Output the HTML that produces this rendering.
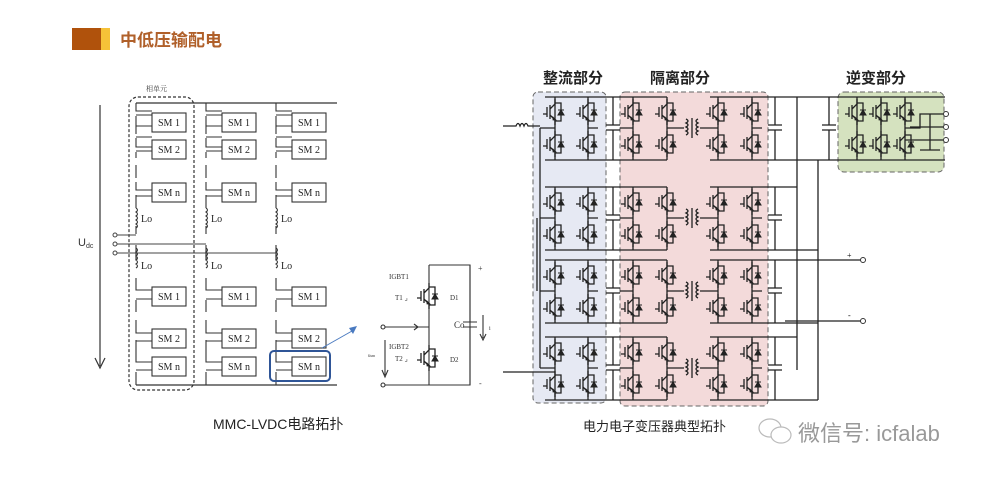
<!DOCTYPE html>
<html><head><meta charset="utf-8"><style>
body{margin:0;background:#fff;}
svg{display:block;font-family:"Liberation Serif","Noto Serif CJK SC",serif;}
.s{font-family:"Liberation Sans","Noto Sans CJK SC",sans-serif;}
</style></head><body>
<svg width="995" height="477" viewBox="0 0 995 477" xmlns="http://www.w3.org/2000/svg">
<defs>
<g id="ig" stroke="#222" fill="none" stroke-width="1.3">
<path d="M0,-13 V-8 L-5,-3 M-5,-7 V7 M-8,-5 V5 M-12,2 H-8 M-5,3 L0,8 V13 M0,-9 H6 V9 H0"/>
<path d="M3,3 H9 L6,-2 Z M3,-2 H9" fill="#222" stroke-width="1"/>
<path d="M-2,5 L1,8 L-2,8 Z" fill="#222" stroke-width="0.8"/>
</g>
<g id="cap" stroke="#222" stroke-width="1.3" fill="none"><path d="M0,0 V28 M-7,28 H7 M-7,33 H7 M0,33 V63"/></g>
<g id="mod" stroke="#222" stroke-width="1.3" fill="none">
<path d="M545,0 H667 M545,63 H667 M710,0 H785 M710,63 H785"/>
<path d="M555,0 V63 M588,0 V63 M633,0 V63 M667,0 V63 M718,0 V63 M752,0 V63"/>
<path d="M555,31 H540 M588,31 H598 M633,31 H620 M667,31 H684 M700,31 H718 M752,31 H762"/>
<path d="M686,22 q4,2 0,4 q4,2 0,4 q4,2 0,4 q4,2 0,4 M698,22 q-4,2 0,4 q-4,2 0,4 q-4,2 0,4 q-4,2 0,4 M692,21 V41"/>
<use href="#cap" x="613"/><use href="#cap" x="775"/>
<use href="#ig" x="555" y="15"/><use href="#ig" x="555" y="47"/>
<use href="#ig" x="588" y="15"/><use href="#ig" x="588" y="47"/>
<use href="#ig" x="633" y="15"/><use href="#ig" x="633" y="47"/>
<use href="#ig" x="667" y="15"/><use href="#ig" x="667" y="47"/>
<use href="#ig" x="718" y="15"/><use href="#ig" x="718" y="47"/>
<use href="#ig" x="752" y="15"/><use href="#ig" x="752" y="47"/>
</g>
</defs>

<!-- header -->
<rect x="72" y="28" width="29" height="22" fill="#b0520c"/>
<rect x="101" y="28" width="9" height="22" fill="#f6c238"/>
<text x="120" y="46" font-size="17" fill="#b0602a" class="s" font-weight="bold">中低压输配电</text>

<!-- left MMC -->
<g stroke="#333" stroke-width="1.2" fill="none">
<path d="M100,105 V366"/><path d="M95,358 L100,368 L105,358"/>
<path d="M136,103 H337 M136,385 H337"/>
<rect x="129" y="97" width="65" height="293" rx="9" stroke-dasharray="3,2"/>
</g>
<text x="78" y="246" font-size="11" class="s" fill="#333">U<tspan font-size="7" dy="2">dc</tspan></text>
<text x="146" y="91" font-size="7" fill="#444">相单元</text>
<g font-size="10" fill="#222">
<g id="col" stroke="#333" stroke-width="1.1" fill="none">
<path d="M136,103 V111 H152 M136,116 V134 M136,126 H152 M136,138 V147 H152 M136,152 V158 M136,165 V178 M136,182 V190 H152 M136,195 V208 M136,226 V234 M136,245 V260 M136,278 V290 H152 M136,300 V312 M136,320 V333 H152 M136,340 V362 H152 M136,372 V385"/>
<path d="M136,115 H152 M136,137 H152 M136,151 H152 M136,196 H152 M136,299 H152 M136,341 H152 M136,370 H152"/>
<path d="M136,208 q3,2 0,4 q3,2 0,4 q3,2 0,4 q3,2 0,4 q3,2 0,4 M136,248 q3,2 0,4 q3,2 0,4 q3,2 0,4 q3,2 0,4 q3,2 0,4"/>
<rect x="152" y="113" width="34" height="19"/><rect x="152" y="140" width="34" height="19"/>
<rect x="152" y="183" width="34" height="19"/><rect x="152" y="287" width="34" height="19"/>
<rect x="152" y="329" width="34" height="19"/><rect x="152" y="357" width="34" height="19"/>
</g>
<use href="#col" x="70"/><use href="#col" x="140"/>
<g id="lbl">
<text x="158" y="126">SM 1</text><text x="158" y="153">SM 2</text><text x="158" y="196">SM n</text>
<text x="141" y="222">Lo</text><text x="141" y="269">Lo</text>
<text x="158" y="300">SM 1</text><text x="158" y="342">SM 2</text><text x="158" y="370">SM n</text>
</g>
<use href="#lbl" x="70"/><use href="#lbl" x="140"/>
</g>
<g stroke="#444" stroke-width="1" fill="none">
<path d="M117,235 H136 M117,244 H206 M117,253 H276"/>
<circle cx="115" cy="235" r="2" fill="#fff"/><circle cx="115" cy="244" r="2" fill="#fff"/><circle cx="115" cy="253" r="2" fill="#fff"/>
</g>
<rect x="270" y="351" width="60" height="30" rx="4" fill="none" stroke="#2f5597" stroke-width="2"/>
<path d="M322,348 L352,331" stroke="#4a7ac0" stroke-width="1"/><path d="M349,328 L357,326 L353,334 Z" fill="#4a7ac0"/>

<!-- half bridge -->
<g stroke="#333" stroke-width="1.1" fill="none">
<path d="M429,265 H470 V385 H385 M429,265 V385 M385,327 H429"/>
<path d="M470,265 V322 M463,322 H477 M463,327 H477 M470,327 V385"/>
<path d="M483,315 V338 M480,334 L483,340 L486,334"/>
<path d="M385,340 V375 M382,370 L385,377 L388,370 M412,327 L417,327 M414,324 L418,327 L414,330"/>
<circle cx="383" cy="327" r="2" fill="#fff"/><circle cx="383" cy="385" r="2" fill="#fff"/>
</g>
<use href="#ig" x="429" y="296"/><use href="#ig" x="429" y="358"/>
<g font-size="7" fill="#333"><text x="389" y="279">IGBT1</text><text x="395" y="300">T1 ⌟</text><text x="450" y="300">D1</text>
<text x="389" y="349">IGBT2</text><text x="395" y="361">T2 ⌟</text><text x="450" y="362">D2</text>
<text x="454" y="328" font-size="9">Co</text><text x="478" y="271" font-size="8">+</text><text x="479" y="386" font-size="8">-</text>
<text x="368" y="357" font-size="5">u<tspan font-size="4">sm</tspan></text><text x="489" y="330" font-size="6">i</text></g>
<text x="213" y="429" font-size="14" fill="#222" class="s">MMC-LVDC电路拓扑</text>

<!-- right PET -->
<rect x="533" y="92" width="73" height="311" rx="5" fill="#e6e9f3" stroke="#666" stroke-dasharray="5,3"/>
<rect x="620" y="92" width="148" height="314" rx="5" fill="#f3dada" stroke="#666" stroke-dasharray="5,3"/>
<rect x="838" y="92" width="106" height="80" rx="6" fill="#d5e2bf" stroke="#666" stroke-dasharray="5,3"/>
<g font-size="15" font-weight="bold" class="s" fill="#222"><text x="543" y="83">整流部分</text><text x="650" y="83">隔离部分</text><text x="846" y="83">逆变部分</text></g>
<use href="#mod" y="97"/><use href="#mod" y="187"/><use href="#mod" y="260"/><use href="#mod" y="337"/>
<g stroke="#222" stroke-width="1.3" fill="none">
<path d="M540,128 V218 M540,218 V291 M540,291 V368 M537,218 V291"/>
<path d="M503,126 H516 q2,-5 4,0 q2,-5 4,0 q2,-5 4,0 H540"/>
<path d="M503,372 H555"/>
<path d="M785,97 H945 M785,160 H945 M797,97 V370 M818,160 V400"/>
<path d="M785,187 H797 M785,250 H818 M785,260 H862 M785,323 H818 M785,321 H862 M785,337 H797 M785,400 H818"/>
<path d="M857,97 V160 M881,97 V160 M905,97 V160 M905,128 H920 V114 H943 M881,128 M910,127 H943 M905,140 H943 M930,114 V150 M920,150 H940"/>
</g>
<use href="#cap" x="829" y="97"/>
<use href="#ig" x="857" y="112"/><use href="#ig" x="857" y="144"/>
<use href="#ig" x="881" y="112"/><use href="#ig" x="881" y="144"/>
<use href="#ig" x="905" y="112"/><use href="#ig" x="905" y="144"/>
<g fill="#fff" stroke="#333" stroke-width="1"><circle cx="946" cy="114" r="2.5"/><circle cx="946" cy="127" r="2.5"/><circle cx="946" cy="140" r="2.5"/><circle cx="863" cy="260" r="2.5"/><circle cx="863" cy="321" r="2.5"/></g>
<text x="847" y="258" font-size="8">+</text><text x="848" y="318" font-size="8">-</text>
<text x="583" y="431" font-size="13" fill="#222" class="s">电力电子变压器典型拓扑</text>

<!-- watermark -->
<g stroke="#bbb" fill="#fff" stroke-width="1.2"><ellipse cx="770" cy="428" rx="11" ry="9"/><ellipse cx="781" cy="435" rx="10" ry="8"/></g>
<text x="798" y="441" font-size="22" fill="#999" class="s">微信号: icfalab</text>
</svg>
</body></html>
